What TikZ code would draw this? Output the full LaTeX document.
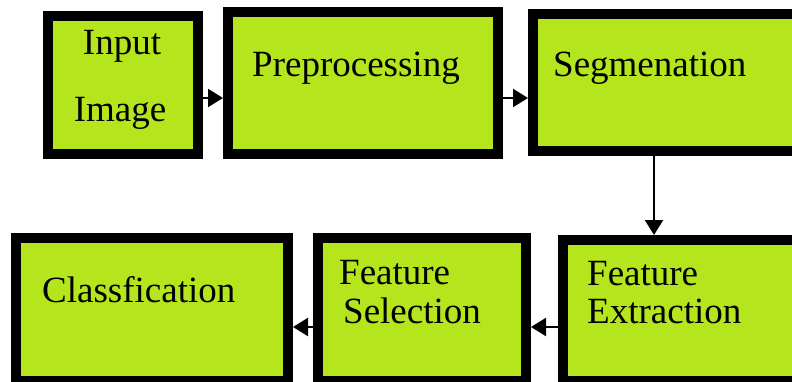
\documentclass[tikz,border=0pt]{standalone}
\usepackage{fontspec}
\setmainfont{Liberation Serif}
\newfontfamily\stagefont{Liberation Serif}
\usetikzlibrary{arrows.meta}
\definecolor{lime}{RGB}{181,230,29}
\begin{document}
\begin{tikzpicture}[x=1pt,y=-1pt,
  stage/.style={draw=black, line width=10pt, fill=lime, inner sep=0pt, anchor=north west},
  label/.style={inner sep=0pt, font=\stagefont\fontsize{37}{40}\selectfont, text=black},
  arr/.style={-{Triangle[length=15pt,width=18pt]}, line width=2.2pt, draw=black}]
  \useasboundingbox (0,0) rectangle (792,382);
  \clip (0,0) rectangle (792,382);
  % stage boxes
  \node[stage, minimum width=150pt, minimum height=138pt] (inp) at (43,11) {};
  \node[stage, minimum width=270pt, minimum height=142pt] (pre) at (223,7) {};
  \node[stage, minimum width=280pt, minimum height=137pt] (seg) at (528,9) {};
  \node[stage, minimum width=272pt, minimum height=143pt] (cls) at (11,233) {};
  \node[stage, minimum width=208pt, minimum height=143pt] (sel) at (313,233) {};
  \node[stage, minimum width=240pt, minimum height=141pt] (ext) at (558,235) {};
  % box texts
  \node[label, anchor=base] (tinp1) at (122,55) {Input};
  \node[label, anchor=base] (tinp2) at (120,122) {Image};
  \node[label, anchor=base west] (tpre) at (252,77) {Preprocessing};
  \node[label, anchor=base west] (tseg) at (553,77) {Segmenation};
  \node[label, anchor=base west] (tcls) at (42,302) {Classfication};
  \node[label, anchor=base west] (tsel1) at (339,284) {Feature};
  \node[label, anchor=base west] (tsel2) at (343,323) {Selection};
  \node[label, anchor=base west] (text1) at (587,285) {Feature};
  \node[label, anchor=base west] (text2) at (587,323) {Extraction};
  % connectors
  \draw[arr] ([yshift=-13pt]inp.east) -- ([yshift=-15pt]pre.west);
  \draw[arr] ([yshift=-15pt]pre.east) -- ([yshift=-15.5pt]seg.west);
  \draw[arr] ([xshift=126pt]seg.south west) -- ([xshift=96pt]ext.north west);
  \draw[arr] ([yshift=-16.5pt]ext.west) -- ([yshift=-17.5pt]sel.east);
  \draw[arr] ([yshift=-17.5pt]sel.west) -- ([yshift=-17.5pt]cls.east);
\end{tikzpicture}
\end{document}
